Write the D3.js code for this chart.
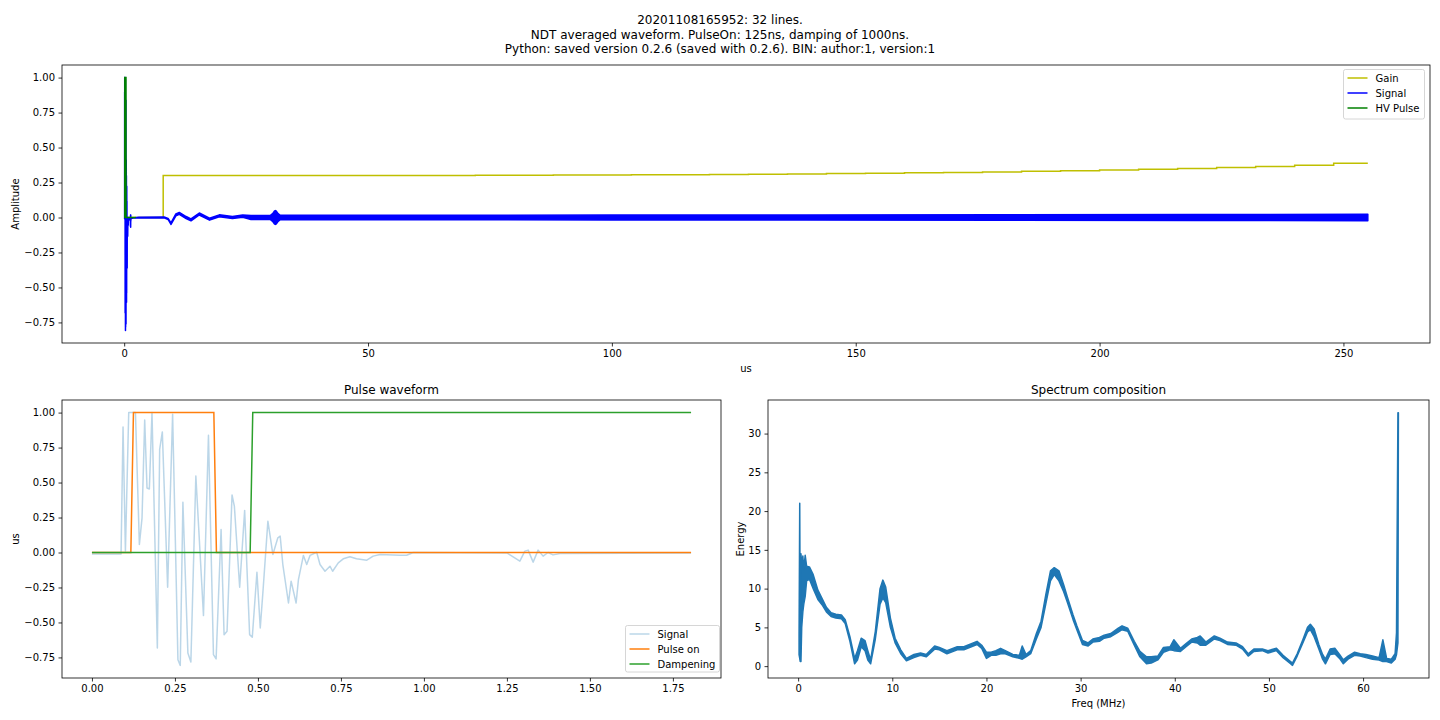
<!DOCTYPE html>
<html><head><meta charset="utf-8">
<script src="https://cdn.jsdelivr.net/npm/d3@7"></script>
<style>
html,body{margin:0;padding:0;background:#fff;}
svg{display:block;}
text{font-family:"DejaVu Sans",sans-serif;fill:#000;}
</style></head>
<body>
<svg id="c" width="1440" height="720"></svg>
<script>
// ---------- DATA ----------
const titleLines = [
  "20201108165952: 32 lines.",
  "NDT averaged waveform. PulseOn: 125ns, damping of 1000ns.",
  "Python: saved version 0.2.6 (saved with 0.2.6). BIN: author:1, version:1"
];
// Top panel: Gain (step)
const gainT = [0, 8, 16, 24, 32, 40, 48, 56, 64, 72, 80, 88, 96, 104, 112, 120, 128, 136, 144, 152, 160, 168, 176, 184, 192, 200, 208, 216, 224, 232, 240, 248, 255];
const gainV = [0, 0.300, 0.300, 0.300, 0.300, 0.300, 0.300, 0.301, 0.301, 0.302, 0.302, 0.303, 0.304, 0.305, 0.306, 0.308, 0.309, 0.311, 0.314, 0.316, 0.319, 0.322, 0.326, 0.330, 0.335, 0.340, 0.345, 0.351, 0.358, 0.365, 0.373, 0.388, 0.388];
// Signal detail (first samples, us) shared by both waveform panels
const pulseSigT = [0, 0.0877, 0.0937, 0.1008, 0.1108, 0.1208, 0.131, 0.1429, 0.1509, 0.1589, 0.1659, 0.1729, 0.1809, 0.197, 0.204, 0.212, 0.228, 0.243, 0.259, 0.266, 0.274, 0.289, 0.298, 0.313, 0.336, 0.351, 0.366, 0.374, 0.389, 0.398, 0.407, 0.422, 0.429, 0.445, 0.460, 0.475, 0.483, 0.497, 0.507, 0.515, 0.530, 0.545, 0.560, 0.567, 0.575, 0.592, 0.600, 0.615, 0.622, 0.637, 0.647, 0.657, 0.677, 0.687, 0.702, 0.717, 0.725, 0.742, 0.757, 0.777, 0.797, 0.828, 0.847, 0.868, 0.928, 0.948, 0.968, 1.25, 1.289, 1.304, 1.314, 1.329, 1.344, 1.359, 1.374, 1.389, 1.41, 1.8047];
const pulseSigV = [-0.01, -0.01, 0.897, 0.01, 1.0, 1.0, 1.0, 0.057, 0.248, 0.947, 0.461, 0.454, 1.0, -0.683, 0.737, 0.862, -0.248, 0.988, -0.766, -0.807, 0.360, -0.718, -0.783, 0.547, -0.451, 0.838, -0.730, -0.761, 0.165, -0.587, -0.563, 0.411, 0.332, -0.248, 0.301, -0.587, -0.606, -0.141, -0.539, -0.284, 0.224, -0.014, 0.105, 0.117, -0.086, -0.361, -0.205, -0.361, -0.194, -0.021, -0.086, -0.021, 0.002, -0.086, -0.134, -0.098, -0.134, -0.074, -0.045, -0.031, -0.045, -0.055, -0.026, -0.014, -0.02, -0.02, 0, -0.003, -0.062, 0.01, 0.017, -0.069, 0.017, -0.026, 0, -0.017, -0.007, -0.004];
// Top panel: remaining signal drawn as its dense min/max band
const bandT  = [1.8047, 3, 8.2, 9.0, 9.6, 10.6, 11.3, 12.7, 13.7, 15.4, 17.5, 19.5, 22.2, 24.3, 26, 30, 30.5, 30.8, 31, 31.2, 31.5, 32, 40, 60, 100, 140, 180, 220, 255];
const bandLo = [-0.004, -0.002, -0.003, -0.014, -0.05, 0.012, 0.022, -0.007, -0.024, 0.018, -0.019, 0.005, -0.008, 0.002, -0.014, -0.015, -0.03, -0.045, -0.05, -0.045, -0.03, -0.016, -0.016, -0.016, -0.017, -0.018, -0.019, -0.021, -0.023];
const bandHi = [-0.004, 0.002, 0.003, -0.006, -0.038, 0.026, 0.036, 0.007, -0.01, 0.032, -0.005, 0.019, 0.008, 0.018, 0.014, 0.015, 0.03, 0.045, 0.05, 0.045, 0.03, 0.016, 0.016, 0.016, 0.017, 0.018, 0.019, 0.021, 0.023];
// HV pulse
const hvT = [0, 0.1172, 0.125, 0.3672, 0.375, 2.4];
const hvV = [0, 0, 1, 1, 0, 0];
// Pulse waveform panel
const pulseOnT = [0, 0.1172, 0.125, 0.3672, 0.375, 1.8047];
const pulseOnV = [0, 0, 1, 1, 0, 0];
const dampT = [0, 0.4766, 0.4844, 1.8047];
const dampV = [0, 0, 1, 1];
// Spectrum composition (min/max band of dense trace)
const specF  = [0.10, 0.17, 0.22, 0.30, 0.38, 0.50, 0.60, 0.75, 0.90, 1.20, 1.60, 2.1, 2.6, 3.0, 3.5, 4.0, 4.6, 5.0, 5.5, 6.0, 6.3, 6.7, 7.1, 7.4, 7.7, 8.2, 8.7, 9.0, 9.3, 9.8, 10.3, 10.9, 11.5, 12.3, 13.0, 13.6, 14.5, 15.0, 15.8, 16.9, 17.6, 18.4, 19.0, 19.5, 20.0, 20.5, 21.0, 21.5, 22.0, 22.8, 23.5, 23.8, 24.2, 24.7, 25.3, 25.8, 26.3, 26.8, 27.2, 27.7, 28.2, 28.6, 29.2, 29.6, 30.2, 30.8, 31.3, 32.0, 32.5, 33.2, 34.0, 34.4, 35.0, 35.7, 36.3, 37.0, 37.5, 38.2, 38.8, 39.5, 39.9, 40.6, 41.2, 41.8, 42.4, 42.7, 43.3, 44.2, 44.8, 45.6, 46.5, 47.2, 47.8, 48.4, 49.3, 49.9, 50.8, 51.5, 52.2, 52.5, 53.0, 53.6, 54.1, 54.4, 54.8, 55.3, 55.7, 56.0, 56.5, 57.0, 57.5, 57.9, 58.4, 59.1, 59.7, 60.3, 61.0, 61.7, 62.1, 62.5, 63.0, 63.4, 63.55, 63.7, 63.75];
const specLo = [1.5, 1.0, 0.6, 0.6, 5.0, 7.0, 8.0, 9.0, 11.0, 11.2, 10.0, 8.6, 7.8, 7.0, 6.4, 6.2, 6.1, 5.5, 3.2, 0.3, 0.8, 2.5, 2.0, 0.8, 0.3, 3.5, 8.0, 8.8, 8.2, 5.0, 3.0, 1.6, 0.7, 1.1, 1.4, 1.2, 2.2, 2.1, 1.6, 2.1, 2.1, 2.5, 2.8, 2.3, 1.0, 1.4, 1.4, 1.6, 1.6, 1.2, 1.0, 0.9, 1.2, 1.6, 3.5, 5.0, 8.0, 11.0, 11.8, 11.0, 9.6, 8.2, 6.0, 4.7, 2.8, 2.6, 3.1, 3.2, 3.6, 3.8, 4.4, 4.7, 4.5, 2.7, 1.2, 0.3, 0.4, 0.8, 1.8, 2.1, 2.0, 1.9, 2.5, 3.1, 3.0, 2.7, 2.7, 3.5, 3.3, 2.8, 2.7, 2.2, 1.3, 1.9, 2.0, 1.7, 2.0, 1.1, 0.4, 0.1, 1.3, 3.0, 4.4, 4.7, 3.8, 2.2, 0.9, 0.3, 1.5, 1.6, 1.0, 0.3, 0.9, 1.4, 1.3, 1.1, 0.9, 0.8, 0.6, 0.6, 0.4, 0.9, 1.5, 3.0, 32.7];
const specHi = [4.0, 21.0, 5.0, 14.5, 13.0, 14.2, 12.5, 14.3, 12.9, 12.8, 11.8, 9.8, 8.6, 7.6, 6.9, 6.7, 6.6, 6.0, 3.8, 1.0, 2.0, 3.6, 3.3, 2.0, 0.8, 4.5, 10.0, 11.1, 10.2, 6.2, 3.6, 2.1, 1.0, 1.5, 1.7, 1.5, 2.6, 2.4, 2.0, 2.5, 2.5, 2.9, 3.2, 2.7, 1.8, 1.8, 2.0, 2.3, 2.0, 1.5, 1.4, 2.6, 1.5, 2.0, 4.2, 5.8, 9.2, 12.3, 12.7, 12.3, 10.5, 8.9, 6.6, 5.2, 3.3, 3.0, 3.5, 3.7, 4.0, 4.2, 4.9, 5.2, 4.9, 3.2, 1.9, 1.2, 1.2, 1.3, 2.4, 2.5, 3.4, 2.3, 2.9, 3.5, 3.7, 3.9, 3.1, 3.9, 3.6, 3.1, 3.0, 2.5, 1.6, 2.2, 2.2, 2.0, 2.3, 1.4, 0.7, 0.4, 1.6, 3.4, 5.0, 5.4, 4.8, 2.8, 1.5, 0.9, 2.2, 2.3, 1.5, 0.8, 1.3, 1.8, 1.6, 1.5, 1.3, 1.1, 3.4, 1.0, 0.9, 1.6, 4.3, 32.7, 32.7];

// tick values
const topXTicks = [0, 50, 100, 150, 200, 250];
const ampYTicks = [-0.75, -0.5, -0.25, 0, 0.25, 0.5, 0.75, 1.0];
const pulseXTicks = [0, 0.25, 0.5, 0.75, 1.0, 1.25, 1.5, 1.75];
const specXTicks = [0, 10, 20, 30, 40, 50, 60];
const specYTicks = [0, 5, 10, 15, 20, 25, 30];

// ---------- DRAW ----------
const svg = d3.select("#c");
svg.append("rect").attr("width",1440).attr("height",720).attr("fill","#fff");

const FONT = "DejaVu Sans";
titleLines.forEach((t,i)=>{
  svg.append("text").attr("x",720).attr("y",24+i*14.5).attr("text-anchor","middle")
    .attr("font-size",12).text(t);
});

function panel(o){
  const x = d3.scaleLinear().domain(o.xd).range([o.l,o.r]);
  const y = d3.scaleLinear().domain(o.yd).range([o.b,o.t]);
  const g = svg.append("g");
  const clipId = "clip"+Math.round(o.l)+"_"+Math.round(o.t);
  svg.append("clipPath").attr("id",clipId).append("rect")
    .attr("x",o.l).attr("y",o.t).attr("width",o.r-o.l).attr("height",o.b-o.t);
  const plot = g.append("g").attr("clip-path","url(#"+clipId+")");
  const xa = g.append("g").attr("transform",`translate(0,${o.b})`)
    .call(d3.axisBottom(x).tickValues(o.xt).tickFormat(o.xf).tickSize(3.5).tickPadding(3.5).tickSizeOuter(0));
  const ya = g.append("g").attr("transform",`translate(${o.l},0)`)
    .call(d3.axisLeft(y).tickValues(o.yt).tickFormat(o.yf).tickSize(3.5).tickPadding(3.5).tickSizeOuter(0));
  [xa,ya].forEach(a=>{
    a.select(".domain").remove();
    a.attr("font-family",FONT).attr("font-size",10);
    a.selectAll("line").attr("stroke","#000").attr("stroke-width",0.8);
    a.selectAll("text").attr("fill","#000");
  });
  g.append("rect").attr("x",o.l).attr("y",o.t).attr("width",o.r-o.l).attr("height",o.b-o.t)
    .attr("fill","none").attr("stroke","#000").attr("stroke-width",0.8);
  return {x,y,plot,g};
}

function legend(x0,y0,w,h,items){
  const g = svg.append("g");
  g.append("rect").attr("x",x0).attr("y",y0).attr("width",w).attr("height",h)
    .attr("rx",2).attr("fill","#fff").attr("fill-opacity",0.8).attr("stroke","#cccccc").attr("stroke-width",0.8);
  items.forEach((it,i)=>{
    const yy = y0+8.5+i*15;
    g.append("line").attr("x1",x0+4).attr("x2",x0+24).attr("y1",yy).attr("y2",yy)
      .attr("stroke",it.c).attr("stroke-width",1.5).attr("stroke-opacity",it.o||1);
    g.append("text").attr("x",x0+32).attr("y",yy+3.6).attr("font-size",10).text(it.n);
  });
}

const f2 = d3.format(".2f");
const f0 = d3.format("d");

// ---- top panel ----
const P1 = panel({l:62,r:1430,t:65,b:343,xd:[-12.75,267.75],yd:[-0.897,1.09],
  xt:topXTicks,yt:ampYTicks,xf:f0,yf:f2});
const zip = (a,b)=>a.map((v,i)=>[v,b[i]]);
const line1 = d3.line().x(d=>P1.x(d[0])).y(d=>P1.y(d[1]));
P1.plot.append("path").attr("d",d3.line().x(d=>P1.x(d[0])).y(d=>P1.y(d[1])).curve(d3.curveStepAfter)(zip(gainT,gainV)))
  .attr("fill","none").attr("stroke","#bfbf00").attr("stroke-width",1.5);
const bandData = bandT.map((t,i)=>({t,lo:bandLo[i],hi:bandHi[i]}));
P1.plot.append("path").attr("d",d3.area().x(d=>P1.x(d.t)).y0(d=>P1.y(d.lo)).y1(d=>P1.y(d.hi))(bandData))
  .attr("fill","#0000ff").attr("stroke","#0000ff").attr("stroke-width",1.5).attr("stroke-linejoin","round");
P1.plot.append("path").attr("d",line1(zip(pulseSigT,pulseSigV)))
  .attr("fill","none").attr("stroke","#0000ff").attr("stroke-width",1.5).attr("stroke-linejoin","round");
P1.plot.append("path").attr("d",line1(zip(hvT,hvV)))
  .attr("fill","none").attr("stroke","#008000").attr("stroke-width",1.5);
svg.append("text").attr("x",746).attr("y",372).attr("text-anchor","middle").attr("font-size",10).text("us");
svg.append("text").attr("transform","translate(19,204) rotate(-90)").attr("text-anchor","middle").attr("font-size",10).text("Amplitude");
legend(1343.5,69.5,81,49.5,[{n:"Gain",c:"#bfbf00"},{n:"Signal",c:"#0000ff"},{n:"HV Pulse",c:"#008000"}]);

// ---- pulse waveform ----
const P2 = panel({l:62,r:721,t:400,b:678,xd:[-0.0902,1.8949],yd:[-0.897,1.09],
  xt:pulseXTicks,yt:ampYTicks,xf:f2,yf:f2});
const line2 = d3.line().x(d=>P2.x(d[0])).y(d=>P2.y(d[1]));
P2.plot.append("path").attr("d",line2(zip(pulseSigT,pulseSigV)))
  .attr("fill","none").attr("stroke","#1f77b4").attr("stroke-opacity",0.3).attr("stroke-width",1.5).attr("stroke-linejoin","round");
P2.plot.append("path").attr("d",line2(zip(pulseOnT,pulseOnV)))
  .attr("fill","none").attr("stroke","#ff7f0e").attr("stroke-width",1.5);
P2.plot.append("path").attr("d",line2(zip(dampT,dampV)))
  .attr("fill","none").attr("stroke","#2ca02c").attr("stroke-width",1.5);
svg.append("text").attr("x",391.5).attr("y",394).attr("text-anchor","middle").attr("font-size",12).text("Pulse waveform");
svg.append("text").attr("transform","translate(18.5,539) rotate(-90)").attr("text-anchor","middle").attr("font-size",10).text("us");
legend(625.5,625.5,94,46.5,[{n:"Signal",c:"#1f77b4",o:0.3},{n:"Pulse on",c:"#ff7f0e"},{n:"Dampening",c:"#2ca02c"}]);

// ---- spectrum ----
const P3 = panel({l:768,r:1429,t:400,b:678,xd:[-3.2,67.0],yd:[-1.53,34.33],
  xt:specXTicks,yt:specYTicks,xf:f0,yf:f0});
const specData = specF.map((f,i)=>({f,lo:specLo[i],hi:specHi[i]}));
P3.plot.append("path").attr("d",d3.area().x(d=>P3.x(d.f)).y0(d=>P3.y(d.lo)).y1(d=>P3.y(d.hi))(specData))
  .attr("fill","#1f77b4").attr("stroke","#1f77b4").attr("stroke-width",1.5).attr("stroke-linejoin","round");
svg.append("text").attr("x",1098.5).attr("y",394).attr("text-anchor","middle").attr("font-size",12).text("Spectrum composition");
svg.append("text").attr("x",1098.5).attr("y",707).attr("text-anchor","middle").attr("font-size",10).text("Freq (MHz)");
svg.append("text").attr("transform","translate(744,539) rotate(-90)").attr("text-anchor","middle").attr("font-size",10).text("Energy");
</script>
</body></html>
